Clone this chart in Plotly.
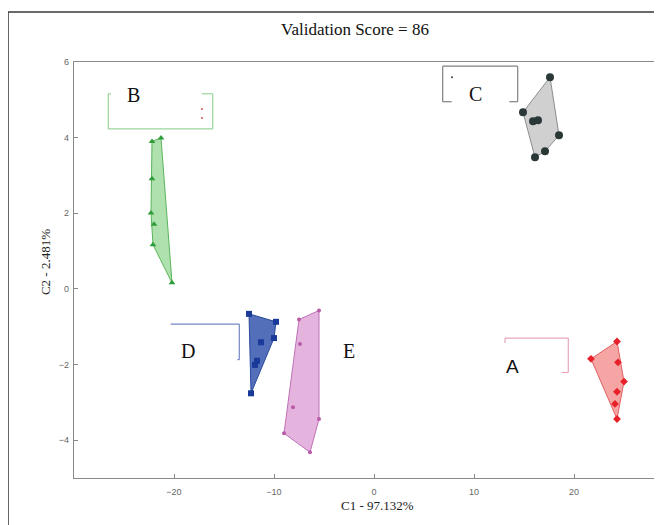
import plotly.graph_objects as go

# ---- data ----
A_x = [24.3, 21.7, 24.4, 25.0, 24.3, 24.1, 24.3]
A_y = [-1.39, -1.85, -1.94, -2.45, -2.72, -3.04, -3.44]
B_x = [-21.3, -22.2, -22.2, -22.3, -22.0, -22.1, -20.2]
B_y = [3.99, 3.90, 2.91, 2.01, 1.71, 1.17, 0.16]
C_x = [17.6, 14.9, 15.9, 16.4, 18.5, 17.1, 16.1]
C_y = [5.60, 4.67, 4.43, 4.46, 4.06, 3.64, 3.48]
D_x = [-12.5, -9.8, -10.0, -11.3, -11.7, -11.9, -12.3]
D_y = [-0.66, -0.87, -1.30, -1.41, -1.90, -2.01, -2.76]
E_x = [-5.5, -7.5, -7.4, -8.1, -5.5, -9.0, -6.4]
E_y = [-0.57, -0.81, -1.46, -3.13, -3.44, -3.82, -4.32]

x_ticks = [-20, -10, 0, 10, 20]
y_ticks = [-4, -2, 0, 2, 4, 6]

title_text = "Validation Score = 86"
x_title = "C1 - 97.132%"
y_title = "C2 - 2.481%"


def hull(xs, ys):
    pts = sorted(set(zip(xs, ys)))
    def cross(o, a, b):
        return (a[0] - o[0]) * (b[1] - o[1]) - (a[1] - o[1]) * (b[0] - o[0])
    lower, upper = [], []
    for p in pts:
        while len(lower) >= 2 and cross(lower[-2], lower[-1], p) <= 0:
            lower.pop()
        lower.append(p)
    for p in reversed(pts):
        while len(upper) >= 2 and cross(upper[-2], upper[-1], p) <= 0:
            upper.pop()
        upper.append(p)
    h = lower[:-1] + upper[:-1]
    h.append(h[0])
    return [p[0] for p in h], [p[1] for p in h]


groups = [
    (A_x, A_y, "rgba(240,105,105,0.6)", "#e06060", "#e8202a", "diamond", 6),
    (B_x, B_y, "rgba(110,200,110,0.55)", "#5ab45a", "#2f9e3a", "triangle-up", 6),
    (C_x, C_y, "rgba(170,170,170,0.55)", "#8c8c8c", "#2b3838", "circle", 8),
    (D_x, D_y, "rgba(35,70,165,0.78)", "#2a4a9e", "#1a3a9a", "square", 6),
    (E_x, E_y, "rgba(212,130,200,0.6)", "#c070b8", "#b85aa8", "circle", 4),
]

fig = go.Figure()
for xs, ys, fillc, linec, mc, sym, ms in groups:
    hx, hy = hull(xs, ys)
    fig.add_trace(go.Scatter(x=hx, y=hy, mode="lines", fill="toself",
                             fillcolor=fillc, line=dict(color=linec, width=1),
                             hoverinfo="skip", showlegend=False))
    fig.add_trace(go.Scatter(x=xs, y=ys, mode="markers",
                             marker=dict(symbol=sym, size=ms, color=mc),
                             showlegend=False))

# small stray legend marks
fig.add_trace(go.Scatter(x=[-17.2, -17.2], y=[4.76, 4.52], mode="markers",
                         marker=dict(size=2, color="#d05050"), showlegend=False))
fig.add_trace(go.Scatter(x=[7.8], y=[5.6], mode="markers",
                         marker=dict(size=2, color="#404040"), showlegend=False))

shapes = []
def seg(x0, y0, x1, y1, c):
    shapes.append(dict(type="line", xref="x", yref="y", x0=x0, y0=y0, x1=x1, y1=y1,
                       line=dict(color=c, width=1.2)))

# bracket B (green)
cB = "#9bd49b"
seg(-26.57, 5.16, -26.57, 4.23, cB)
seg(-26.57, 4.23, -16.13, 4.23, cB)
seg(-16.13, 4.23, -16.13, 5.16, cB)
seg(-26.57, 5.16, -26.3, 5.16, cB)
seg(-17.23, 5.16, -16.13, 5.16, cB)
# bracket C (gray)
cC = "#808080"
seg(6.87, 5.89, 14.37, 5.89, cC)
seg(6.87, 5.89, 6.87, 4.95, cC)
seg(14.37, 5.89, 14.37, 4.95, cC)
seg(6.87, 4.95, 7.77, 4.95, cC)
seg(13.53, 4.95, 14.37, 4.95, cC)
# bracket D (blue)
cD = "#7586c4"
seg(-20.33, -0.93, -13.47, -0.93, cD)
seg(-13.47, -0.93, -13.47, -1.87, cD)
seg(-13.47, -1.87, -13.67, -1.87, cD)
# bracket A (pink)
cA = "#eaa6b8"
seg(13.1, -1.30, 19.43, -1.30, cA)
seg(13.1, -1.30, 13.1, -1.43, cA)
seg(19.43, -1.30, 19.43, -2.21, cA)
seg(19.43, -2.21, 18.77, -2.21, cA)

# outer frame
shapes.append(dict(type="rect", xref="paper", yref="paper",
                   x0=-0.1122, y0=-0.3, x1=1.2, y1=1.12,
                   line=dict(color="#3a3a3a", width=1.5), layer="below"))

tf = "Liberation Serif, Times New Roman, serif"
def lab(t, x, y, fam=tf, size=20):
    return dict(text=t, x=x, y=y, xref="x", yref="y", showarrow=False,
                xanchor="center", yanchor="middle",
                font=dict(family=fam, size=size, color="#111"))

annotations = [
    lab("B", -24.1, 5.13),
    lab("C", 10.1, 5.16),
    lab("D", -18.6, -1.63),
    lab("E", -2.5, -1.63),
    lab("A", 13.8, -2.05, "Liberation Sans, Arial, sans-serif", 19),
    dict(text=title_text, x=0.478, y=1.077, xref="paper", yref="paper",
         xanchor="center", yanchor="middle",
         showarrow=False, font=dict(family=tf, size=17, color="#111")),
    dict(text=x_title, x=0.517, y=-0.065, xref="paper", yref="paper",
         xanchor="center", yanchor="middle",
         showarrow=False, font=dict(family=tf, size=13, color="#222")),
    dict(text=y_title, x=-0.0493, y=0.519, xref="paper", yref="paper",
         xanchor="center", yanchor="middle",
         showarrow=False, textangle=-90, font=dict(family=tf, size=13, color="#222")),
]

axis_common = dict(showgrid=False, zeroline=False, showline=True, linecolor="#8a8a8a",
                   linewidth=1.2, ticks="inside", ticklen=4, tickcolor="#8a8a8a",
                   tickfont=dict(family="Liberation Sans Narrow, Liberation Sans, Arial", size=9, color="#666"))

# the page body adds an 8px offset, so the figure is sized to fit the window
fig.update_layout(
    width=654, height=517,
    margin=dict(l=66, r=0, t=54, b=47),
    plot_bgcolor="white", paper_bgcolor="white",
    xaxis=dict(range=[-30, 28.8], tickvals=x_ticks, mirror=True,
               ticklabelstandoff=5, **axis_common),
    yaxis=dict(range=[-5, 6], tickvals=y_ticks, ticklabelstandoff=2, **axis_common),
    shapes=shapes, annotations=annotations, showlegend=False,
)

fig.write_html("out.html")
